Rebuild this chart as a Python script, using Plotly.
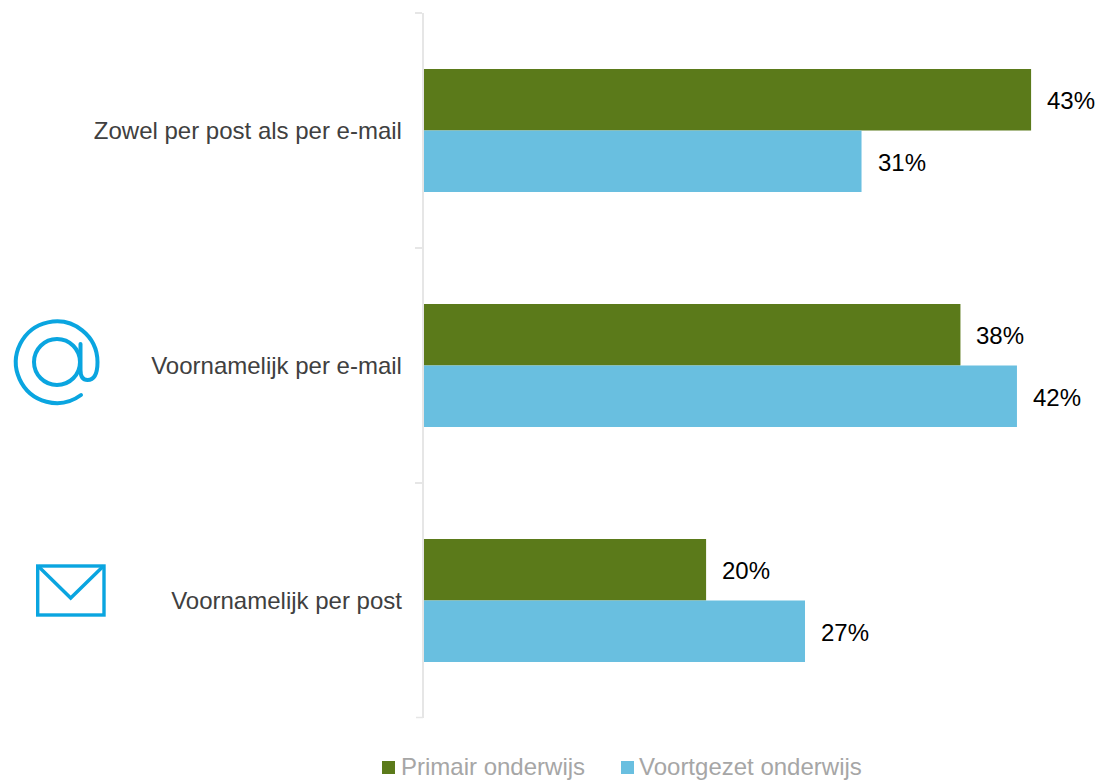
import base64
import plotly.graph_objects as go

categories = ["Zowel per post als per e-mail", "Voornamelijk per e-mail", "Voornamelijk per post"]
primair = [43, 38, 20]
voortgezet = [31, 42, 27]
series_names = ["Primair onderwijs", "Voortgezet onderwijs"]

W, H = 1097, 780
GREEN, BLUE, ICON = "#5b7a1a", "#69bfe0", "#0aa5e0"
FONT = "Liberation Sans"
AXIS_LEFT, TOP, BOTTOM = 423.5, 13, 718
PX_PER_PCT = 14.13


def px(x):
    return x / W


def py(y):
    return 1 - y / H


def svg_uri(body, vx, vy, vw, vh):
    svg = (f'<svg xmlns="http://www.w3.org/2000/svg" width="{vw}" height="{vh}" '
           f'viewBox="{vx} {vy} {vw} {vh}">{body}</svg>')
    return "data:image/svg+xml;base64," + base64.b64encode(svg.encode()).decode()


at_icon = svg_uri(
    f'<g fill="none" stroke="{ICON}" stroke-width="4" stroke-linecap="round">'
    '<path d="M81 395 A40.8 40.8 0 1 1 97.5 362 C97.5 372 95 380 87.5 380 '
    'C82.5 380 80.5 376 80.5 370 L80.5 344"/>'
    '<circle cx="57" cy="362" r="23"/></g>', 0, 300, 130, 120)
mail_icon = svg_uri(
    f'<g fill="none" stroke="{ICON}" stroke-width="3.4">'
    '<rect x="37.7" y="566" width="66.3" height="49"/>'
    '<path d="M38 566 L70.7 598 L103.5 566"/></g>', 0, 550, 130, 80)

fig = go.Figure()
for name, vals, color in zip(series_names, [primair, voortgezet], [GREEN, BLUE]):
    fig.add_trace(go.Bar(name=name, y=categories, x=vals, orientation="h",
                         marker=dict(color=color, line_width=0), showlegend=False))

annotations = []
for vals, offset in zip([primair, voortgezet], [-31, 31]):
    for cat, v in zip(categories, vals):
        annotations.append(dict(x=v, y=cat, xref="x", yref="y", text=f"{v}%", showarrow=False,
                                xanchor="left", xshift=14, yshift=-offset - 1,
                                font=dict(family=FONT, size=24, color="#000000")))

legend_items = [(series_names[0], GREEN, 382, 401), (series_names[1], BLUE, 621, 639)]
shapes = [dict(type="line", xref="paper", yref="paper", x0=px(416), x1=px(423), y0=py(BOTTOM - 0.5),
               y1=py(BOTTOM - 0.5), line=dict(color="#e6e6e6", width=1.5))]
for name, color, sx, tx in legend_items:
    shapes.append(dict(type="rect", xref="paper", yref="paper", x0=px(sx), x1=px(sx + 13),
                       y0=py(774), y1=py(761), fillcolor=color, line_width=0))
    annotations.append(dict(x=px(tx), y=py(766.5), xref="paper", yref="paper", text=name, showarrow=False,
                            xanchor="left", yanchor="middle", xshift=-2,
                            font=dict(family=FONT, size=24, color="#a6a6a6")))

images = [
    dict(source=at_icon, xref="paper", yref="paper", x=0, y=py(300), sizex=px(130), sizey=120 / H,
         sizing="stretch", xanchor="left", yanchor="top", layer="above"),
    dict(source=mail_icon, xref="paper", yref="paper", x=0, y=py(550), sizex=px(130), sizey=80 / H,
         sizing="stretch", xanchor="left", yanchor="top", layer="above"),
]

fig.update_layout(
    width=W, height=H, autosize=False,
    margin=dict(l=0, r=0, t=0, b=0),
    paper_bgcolor="white", plot_bgcolor="white",
    barmode="group", bargap=0.476, bargroupgap=0,
    showlegend=False,
    annotations=annotations, shapes=shapes, images=images,
    xaxis=dict(domain=[px(AXIS_LEFT), 1], range=[0, (W - AXIS_LEFT) / PX_PER_PCT],
               visible=False, fixedrange=True),
    yaxis=dict(domain=[py(BOTTOM), py(TOP)], autorange="reversed", type="category",
               anchor="x", side="left", tickson="boundaries",
               ticks="outside", ticklen=7, tickwidth=1.5, tickcolor="#e6e6e6",
               showline=True, linecolor="#e6e6e6", linewidth=1.5, showgrid=False,
               ticklabelstandoff=15,
               tickfont=dict(family=FONT, size=24, color="#404040")),
)
fig.write_html("out.html", config={"displayModeBar": False},
               post_script="document.body.style.margin='0';document.body.style.overflow='hidden';")
